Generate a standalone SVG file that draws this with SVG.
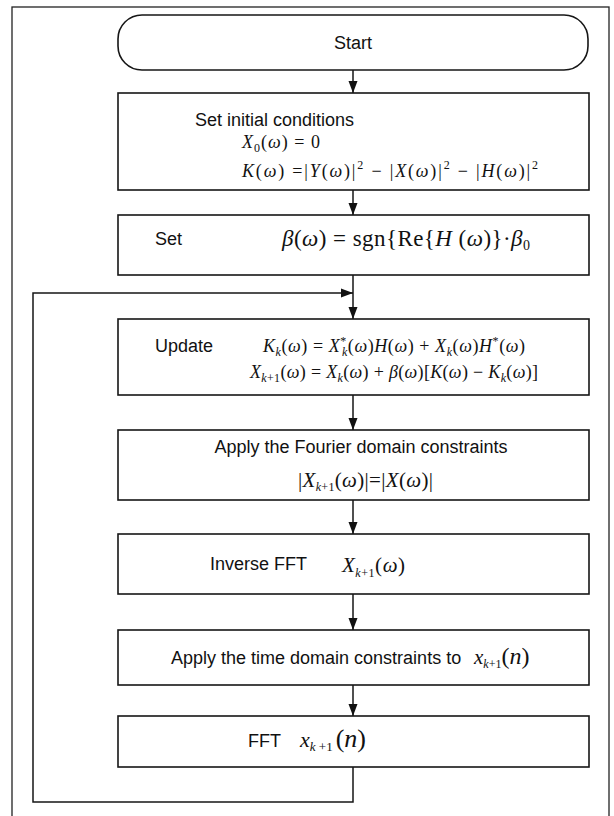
<svg xmlns="http://www.w3.org/2000/svg" width="614" height="816" viewBox="0 0 614 816">
  <defs>
    <marker id="arrow" markerUnits="userSpaceOnUse" markerWidth="13" markerHeight="10" refX="12" refY="5" orient="auto">
      <path d="M0,0.5 L12,5 L0,9.5 z" fill="#111"/>
    </marker>
    <style>
      .box { fill: #fff; stroke: #161616; stroke-width: 1.6; }
      .frame { fill: #fff; stroke: #222; stroke-width: 1.3; }
      .edge { fill: none; stroke: #161616; stroke-width: 1.5; }
      .lbl { font-family: "Liberation Sans", Arial, sans-serif; font-size: 18px; fill: #111; }
      .m { font-family: "Liberation Serif", "Times New Roman", serif; font-size: 18px; fill: #111; }
      .m.big { font-size: 21px; }
      .m.beta { font-size: 23px; }
      .m.fft { font-size: 22px; }
      .i { font-style: italic; }
      .s { font-size: 12px; }
    </style>
  </defs>

  <!-- outer frame (its lower edge runs past the bottom of the page) -->
  <rect class="frame" x="12" y="7" width="597" height="820"/>

  <!-- connectors -->
  <g id="connectors">
    <path class="edge" d="M353,70 V93" marker-end="url(#arrow)"/>
    <path class="edge" d="M353,190 V215" marker-end="url(#arrow)"/>
    <path class="edge" d="M353,275 V319" marker-end="url(#arrow)"/>
    <path class="edge" d="M353,395 V430" marker-end="url(#arrow)"/>
    <path class="edge" d="M353,500 V534" marker-end="url(#arrow)"/>
    <path class="edge" d="M353,594 V630" marker-end="url(#arrow)"/>
    <path class="edge" d="M353,685 V716" marker-end="url(#arrow)"/>
    <!-- feedback loop back into the update step -->
    <path class="edge" d="M353,767 V802 H33 V293 H353" marker-end="url(#arrow)"/>
  </g>

  <!-- Start -->
  <g id="start">
    <rect class="box" x="118" y="15" width="470" height="55" rx="24" ry="24"/>
    <text class="lbl" x="353" y="49" text-anchor="middle">Start</text>
  </g>

  <!-- initial conditions -->
  <g id="init">
    <rect class="box" x="118" y="93" width="471" height="97"/>
    <text class="lbl" x="195" y="125.5">Set initial conditions</text>
    <text class="m" x="242" y="148" textLength="78" lengthAdjust="spacing"><tspan class="i">X</tspan><tspan class="s" dy="4">0</tspan><tspan dy="-4">(</tspan><tspan class="i">ω</tspan>) = 0</text>
    <text class="m" x="242" y="177" textLength="296" lengthAdjust="spacing"><tspan class="i">K</tspan>(<tspan class="i">ω</tspan>) =|<tspan class="i">Y</tspan>(<tspan class="i">ω</tspan>)|<tspan class="s" dy="-8">2</tspan><tspan dy="8"> − |</tspan><tspan class="i">X</tspan>(<tspan class="i">ω</tspan>)|<tspan class="s" dy="-8">2</tspan><tspan dy="8"> − |</tspan><tspan class="i">H</tspan>(<tspan class="i">ω</tspan>)|<tspan class="s" dy="-8">2</tspan></text>
  </g>

  <!-- step size -->
  <g id="set-beta">
    <rect class="box" x="118" y="215" width="471" height="60"/>
    <text class="lbl" x="155" y="245">Set</text>
    <text class="m beta" x="282" y="246" textLength="248" lengthAdjust="spacing"><tspan class="i">β</tspan>(<tspan class="i">ω</tspan>) = sgn{Re{<tspan class="i">H</tspan> (<tspan class="i">ω</tspan>)}·<tspan class="i">β</tspan><tspan font-size="14" dy="4">0</tspan></text>
  </g>

  <!-- update -->
  <g id="update">
    <rect class="box" x="118" y="319" width="471" height="76"/>
    <text class="lbl" x="155" y="352">Update</text>
    <text class="m" x="263" y="352" textLength="262" lengthAdjust="spacing"><tspan class="i">K</tspan><tspan class="s i" dy="4">k</tspan><tspan dy="-4">(</tspan><tspan class="i">ω</tspan>) = <tspan class="i">X</tspan><tspan class="s" dy="-7">*</tspan><tspan class="s i" dx="-5" dy="11">k</tspan><tspan dy="-4">(</tspan><tspan class="i">ω</tspan>)<tspan class="i">H</tspan>(<tspan class="i">ω</tspan>) + <tspan class="i">X</tspan><tspan class="s i" dy="4">k</tspan><tspan dy="-4">(</tspan><tspan class="i">ω</tspan>)<tspan class="i">H</tspan><tspan class="s" dy="-7">*</tspan><tspan dy="7">(</tspan><tspan class="i">ω</tspan>)</text>
    <text class="m" x="250" y="378" textLength="288" lengthAdjust="spacing"><tspan class="i">X</tspan><tspan class="s" dy="4"><tspan class="i">k</tspan>+1</tspan><tspan dy="-4">(</tspan><tspan class="i">ω</tspan>) = <tspan class="i">X</tspan><tspan class="s i" dy="4">k</tspan><tspan dy="-4">(</tspan><tspan class="i">ω</tspan>) + <tspan class="i">β</tspan>(<tspan class="i">ω</tspan>)[<tspan class="i">K</tspan>(<tspan class="i">ω</tspan>) − <tspan class="i">K</tspan><tspan class="s i" dy="4">k</tspan><tspan dy="-4">(</tspan><tspan class="i">ω</tspan>)]</text>
  </g>

  <!-- Fourier domain constraints -->
  <g id="fourier">
    <rect class="box" x="118" y="430" width="471" height="70"/>
    <text class="lbl" x="361" y="453" text-anchor="middle">Apply the Fourier domain constraints</text>
    <text class="m big" x="298" y="487" textLength="135" lengthAdjust="spacing">|<tspan class="i">X</tspan><tspan font-size="12" dy="4"><tspan class="i">k</tspan>+1</tspan><tspan dy="-4">(</tspan><tspan class="i">ω</tspan>)|=|<tspan class="i">X</tspan>(<tspan class="i">ω</tspan>)|</text>
  </g>

  <!-- inverse transform -->
  <g id="ifft">
    <rect class="box" x="118" y="534" width="471" height="60"/>
    <text class="lbl" x="210" y="570">Inverse FFT</text>
    <text class="m big" x="342" y="572" textLength="63" lengthAdjust="spacing"><tspan class="i">X</tspan><tspan class="s" dy="5"><tspan class="i">k</tspan>+1</tspan><tspan dy="-5">(</tspan><tspan class="i">ω</tspan>)</text>
  </g>

  <!-- time domain constraints -->
  <g id="time">
    <rect class="box" x="118" y="630" width="471" height="55"/>
    <text class="lbl" x="171" y="664">Apply the time domain constraints to</text>
    <text class="m big" x="474" y="664"><tspan class="i">x</tspan><tspan class="s" dy="4"><tspan class="i">k</tspan>+1</tspan><tspan font-size="24" dy="-4">(</tspan><tspan class="i" font-size="24">n</tspan><tspan font-size="24">)</tspan></text>
  </g>

  <!-- forward transform -->
  <g id="fft">
    <rect class="box" x="118" y="716" width="471" height="51"/>
    <text class="lbl" x="248" y="747">FFT</text>
    <text class="m fft" x="300" y="747"><tspan class="i">x</tspan><tspan font-size="13" dy="4"><tspan class="i">k</tspan> +1</tspan><tspan font-size="26" dx="3" dy="-4">(</tspan><tspan class="i" font-size="26">n</tspan><tspan font-size="26">)</tspan></text>
  </g>
</svg>
